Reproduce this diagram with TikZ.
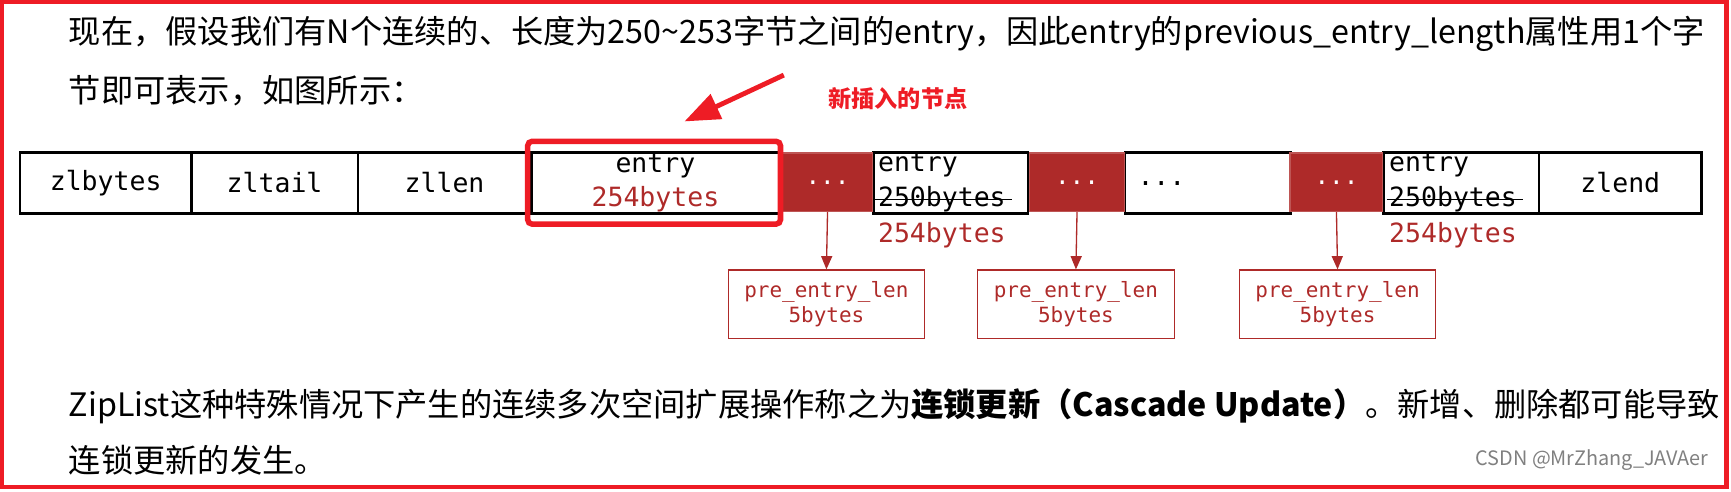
\documentclass[tikz,border=0pt]{standalone}
\usepackage{fontspec}
\setmainfont{Noto Sans CJK SC}
\newfontfamily\mono{DejaVu Sans Mono}
\usetikzlibrary{arrows.meta}
\definecolor{dred}{HTML}{AE2A29}
\definecolor{bred}{HTML}{EE1C25}
\tikzset{
  cell/.style={draw=black,line width=1.2pt,minimum height=27.5pt,inner sep=0pt,font=\mono\fontsize{12}{14}\selectfont,anchor=north west},
  dark/.style={fill=dred,draw=dred!80!white,line width=0.6pt,minimum height=26.5pt,inner sep=0pt,anchor=north west,text=white,font=\mono\fontsize{11}{13}\selectfont},
  plen/.style={draw=dred,line width=0.6pt,text=dred,minimum width=89pt,minimum height=31pt,inner sep=0pt,anchor=north west,align=center,font=\mono\fontsize{9.5}{11.5}\selectfont},
  btext/.style={anchor=west,font=\fontsize{14.6}{16}\selectfont,inner sep=0pt},
  rlab/.style={text=dred,font=\mono\fontsize{12}{14}\selectfont,inner sep=0pt},
  parr/.style={draw=dred,line width=0.6pt,-{Triangle[length=6pt,width=5pt]}}
}
\begin{document}
\begin{tikzpicture}[x=0.5pt,y=-0.5pt]
\useasboundingbox (0,0) rectangle (1568,445);
\draw[bred,line width=2pt] (2,2) rectangle (1564,441);
\node[btext] (t1) at (62,31) {现在，假设我们有N个连续的、长度为250\textasciitilde253字节之间的entry，因此entry的previous\_entry\_length属性用1个字};
\node[btext] (t2) at (62,82) {节即可表示，如图所示：};
\node[anchor=west,text=bred,font=\bfseries\fontsize{10.5}{12}\selectfont,inner sep=0pt] (lab) at (750,89) {新插入的节点};
% cells
\node[cell,minimum width=77.5pt] (zb) at (17,137) {zlbytes};
\node[cell,minimum width=75.5pt] (zt) at (172,137) {zltail};
\node[cell,minimum width=78.5pt] (zl) at (323,137) {zllen};
\node[cell,minimum width=112.5pt,align=center,font=\mono\fontsize{12}{15}\selectfont] (e1) at (480,137) {entry\\\textcolor{dred}{254bytes}};
\node[dark,minimum width=41pt] (d1) at (708,138) {...};
\node[cell,minimum width=70pt] (e2) at (790,137) {};
\node[dark,minimum width=43pt] (d2) at (932,138) {...};
\node[cell,minimum width=75pt] (e3) at (1018,137) {};
\node[dark,minimum width=42pt] (d3) at (1168,138) {...};
\node[cell,minimum width=70.5pt] (e4) at (1252,137) {};
\node[cell,minimum width=73.5pt] (ze) at (1393,137) {zlend};
% redraw dark boxes over cell borders
\node[dark,minimum width=41pt] at (708,138) {...};
\node[dark,minimum width=43pt] at (932,138) {...};
\node[dark,minimum width=42pt] at (1168,138) {...};
\node[font=\mono\fontsize{12}{14}\selectfont,anchor=west,inner sep=0pt] (dots) at (1030,166) {...};
\node[font=\mono\fontsize{12}{14}\selectfont,anchor=west,inner sep=0pt] (en2) at (795,149) {entry};
\node[font=\mono\fontsize{12}{14}\selectfont,anchor=west,inner sep=0pt] (b2) at (795,180) {250bytes};
\draw[line width=0.6pt] (793,181) -- (917,181);
\node[font=\mono\fontsize{12}{14}\selectfont,anchor=west,inner sep=0pt] (en4) at (1258,149) {entry};
\node[font=\mono\fontsize{12}{14}\selectfont,anchor=west,inner sep=0pt] (b4) at (1258,180) {250bytes};
\draw[line width=0.6pt] (1256,181) -- (1380,181);
\node[rlab,anchor=west] (r2) at (795,213) {254bytes};
\node[rlab,anchor=west] (r4) at (1258,213) {254bytes};
% highlight
\draw[bred,line width=2.5pt,rounded corners=2pt] (478,128) rectangle (707,203);
% big arrow
\coordinate (as) at (710,68);
\draw[bred,line width=2.2pt,-{Triangle[length=16pt,width=12pt]}] (as) -- (620,110);
% pre_entry_len boxes
\node[plen] (p1) at (659,244) {pre\_entry\_len\\5bytes};
\node[plen] (p2) at (885,244) {pre\_entry\_len\\5bytes};
\node[plen] (p3) at (1122,244) {pre\_entry\_len\\5bytes};
\draw[parr] (d1.south) -- (p1.north);
\draw[parr] (d2.south) -- (p2.north);
\draw[parr] (d3.south) -- (p3.north);
\node[btext] (t3) at (62,368) {ZipList这种特殊情况下产生的连续多次空间扩展操作称之为\textbf{连锁更新（Cascade Update）}。新增、删除都可能导致};
\node[btext] (t4) at (62,417) {连锁更新的发生。};
\node[anchor=east,text=gray,font=\fontsize{9}{10}\selectfont,inner sep=0pt] (wm) at (1548,417) {CSDN @MrZhang\_JAVAer};
\end{tikzpicture}
\end{document}
